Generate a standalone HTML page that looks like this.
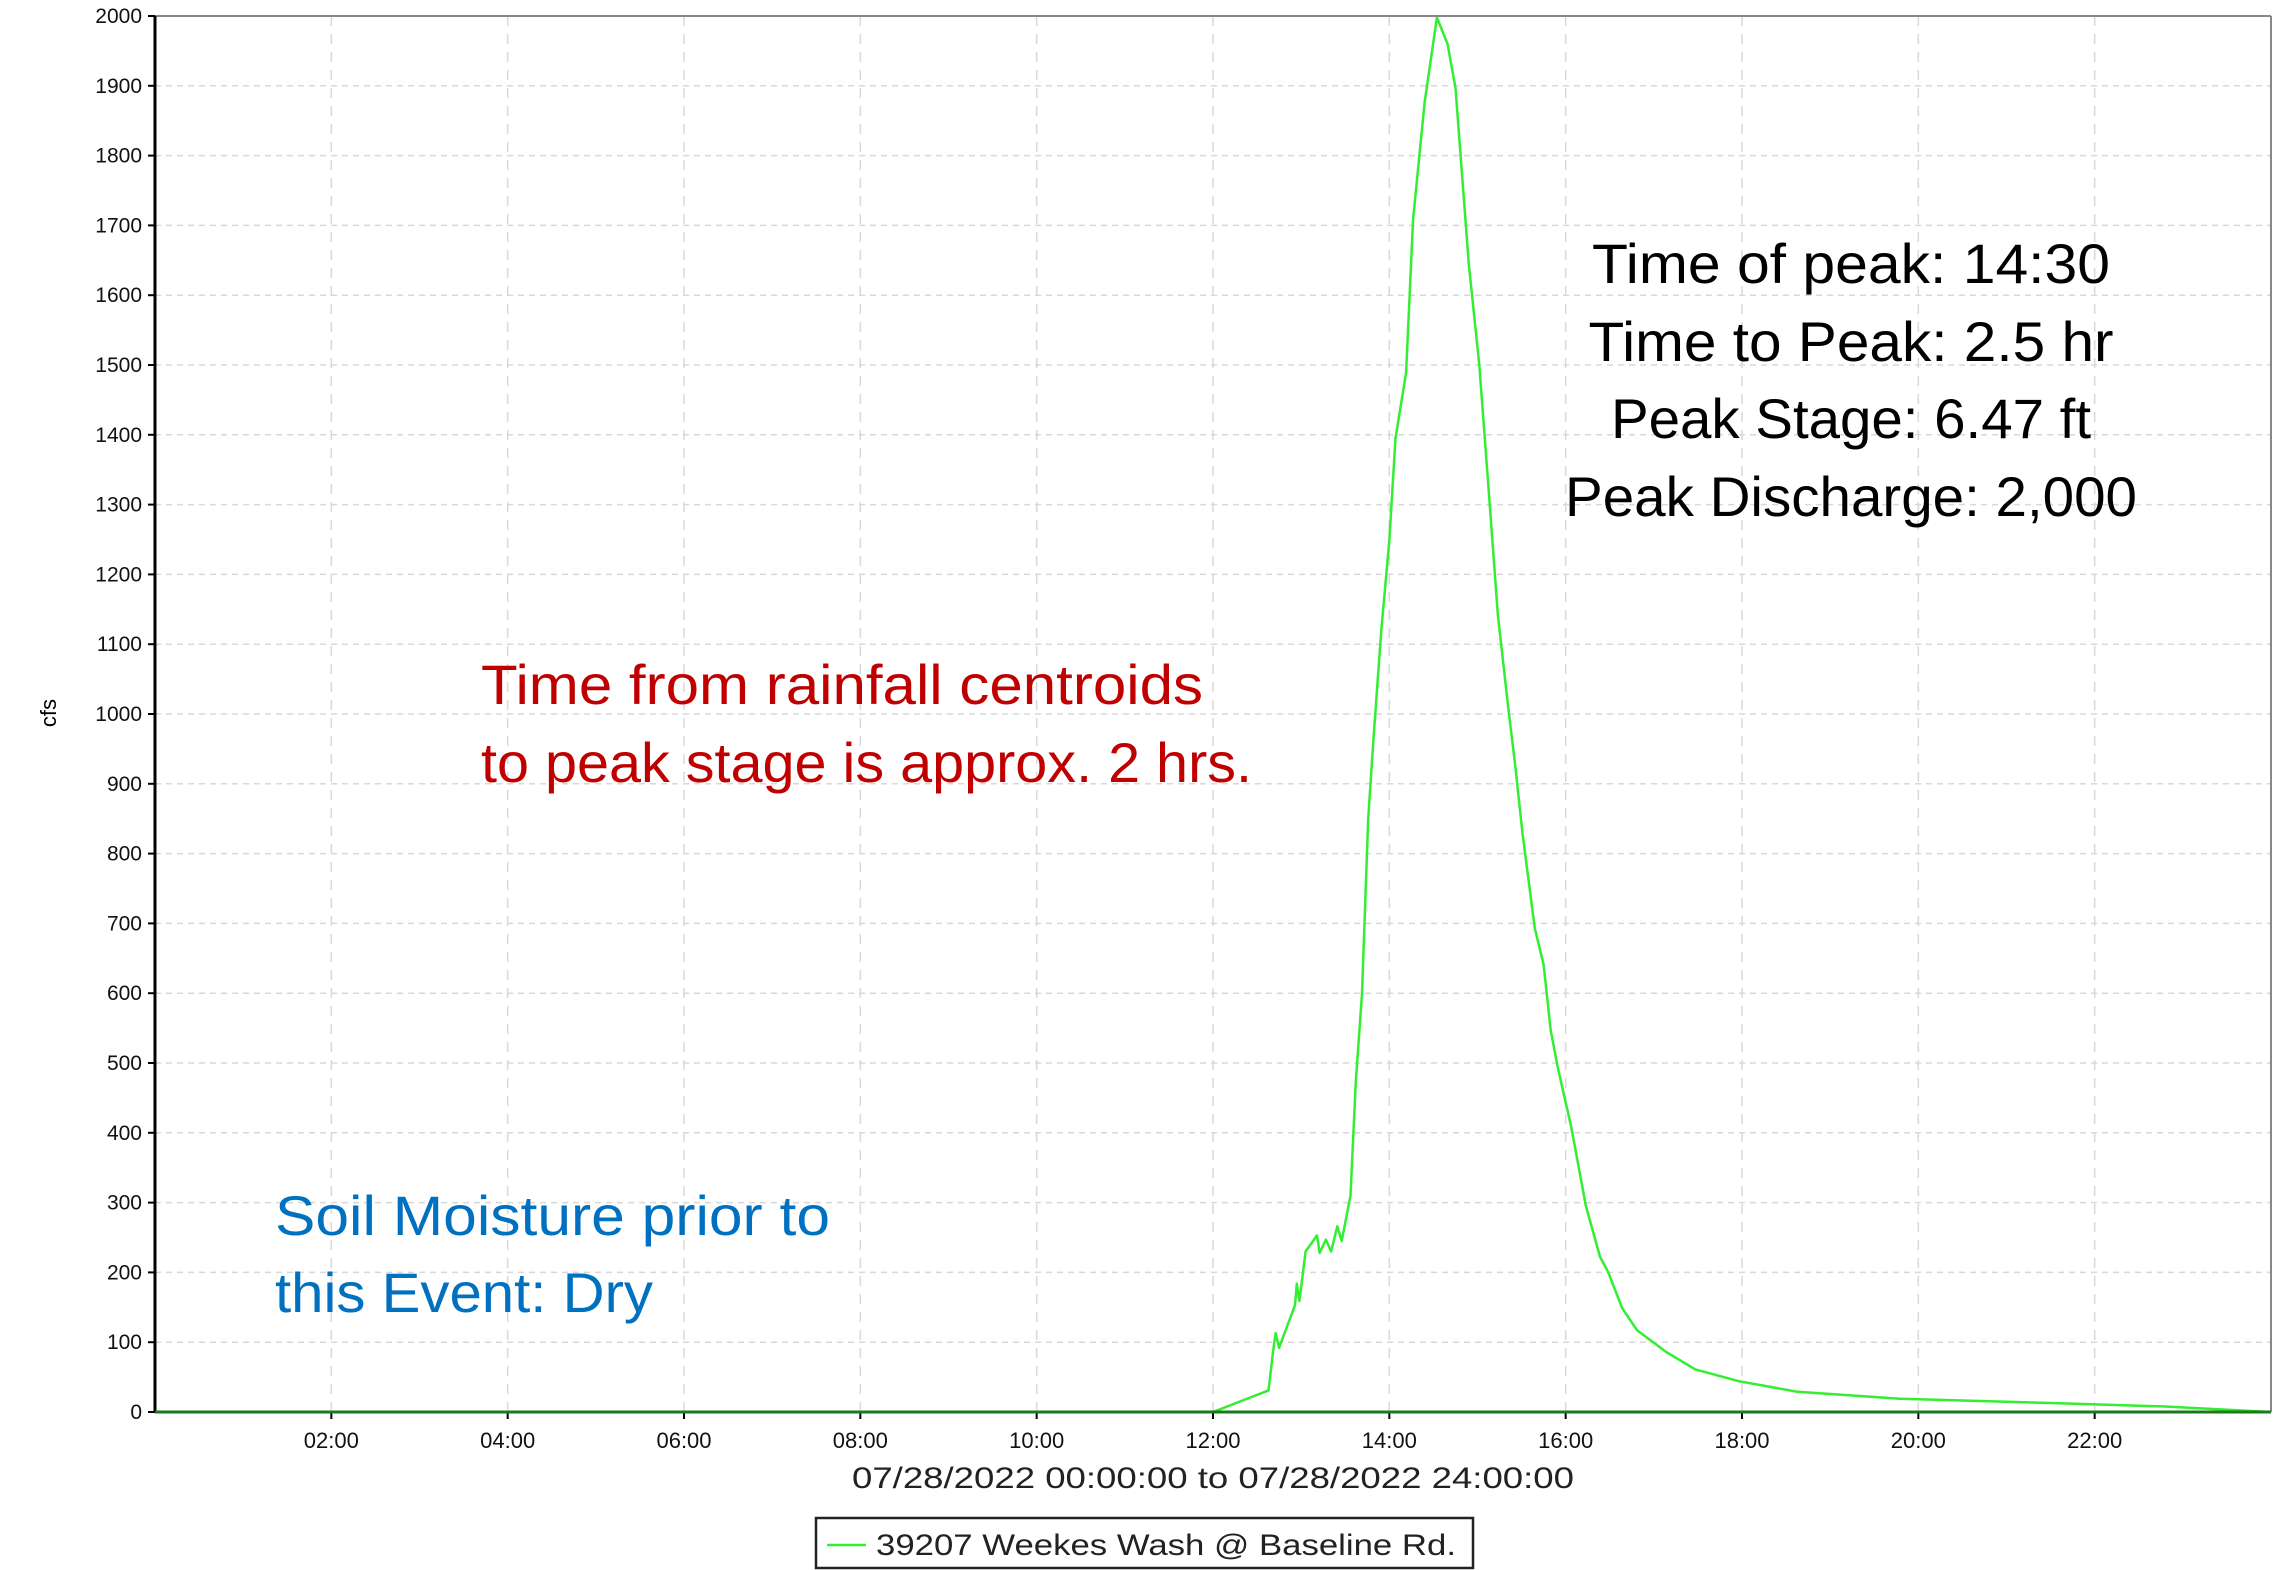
<!DOCTYPE html>
<html><head><meta charset="utf-8"><style>
html,body{margin:0;padding:0;background:#fff;}
svg{display:block;font-family:"Liberation Sans","DejaVu Sans",sans-serif;}
</style></head><body>
<svg id="chart" width="2280" height="1570" viewBox="0 0 2280 1570">
<g id="grid"></g>
<g id="series"></g>
<g id="axes"></g>
<text x="56" y="713" font-size="22" text-anchor="middle" transform="rotate(-90 56 713)">cfs</text>
<text x="1213" y="1488" font-size="30" text-anchor="middle" fill="#222" textLength="722" lengthAdjust="spacingAndGlyphs">07/28/2022 00:00:00 to 07/28/2022 24:00:00</text>
<g>
<rect x="816" y="1518" width="657" height="50" fill="#fff" stroke="#222" stroke-width="2.5"/>
<line x1="827" y1="1545" x2="866" y2="1545" stroke="#33ee33" stroke-width="2.5"/>
<text x="876" y="1555" font-size="30" fill="#222" textLength="580" lengthAdjust="spacingAndGlyphs">39207 Weekes Wash @ Baseline Rd.</text>
</g>
<g font-size="56" fill="#000" text-anchor="middle">
<text x="1851" y="283" textLength="518" lengthAdjust="spacingAndGlyphs">Time of peak: 14:30</text>
<text x="1851" y="361" textLength="525" lengthAdjust="spacingAndGlyphs">Time to Peak: 2.5 hr</text>
<text x="1851" y="438" textLength="480" lengthAdjust="spacingAndGlyphs">Peak Stage: 6.47 ft</text>
<text x="1851" y="516" textLength="572" lengthAdjust="spacingAndGlyphs">Peak Discharge: 2,000</text>
</g>
<g font-size="56" fill="#c00000">
<text x="481" y="704" textLength="722" lengthAdjust="spacingAndGlyphs">Time from rainfall centroids</text>
<text x="481" y="782" textLength="771" lengthAdjust="spacingAndGlyphs">to peak stage is approx. 2 hrs.</text>
</g>
<g font-size="56" fill="#0070c0">
<text x="275" y="1235" textLength="555" lengthAdjust="spacingAndGlyphs">Soil Moisture prior to</text>
<text x="275" y="1312" textLength="378" lengthAdjust="spacingAndGlyphs">this Event: Dry</text>
</g>
</svg>
<script>
const hours=[0,12.0,12.63,12.68,12.71,12.75,12.93,12.95,12.98,13.05,13.18,13.21,13.28,13.34,13.41,13.46,13.56,13.62,13.69,13.76,13.82,13.91,14.0,14.07,14.19,14.27,14.4,14.54,14.66,14.75,14.9,15.02,15.12,15.23,15.35,15.43,15.51,15.65,15.75,15.83,15.91,16.06,16.23,16.39,16.48,16.64,16.81,17.14,17.47,17.97,18.63,19.79,21.45,22.77,24];
const cfs=[0,0,31,86,113,92,153,184,159,230,253,228,247,230,266,245,310,473,599,850,965,1122,1248,1395,1489,1709,1876,1998,1960,1897,1646,1500,1332,1143,1007,924,829,693,641,547,494,410,295,222,201,149,117,86,61,44,29,19,13,8,0];
const yTicks=[0,100,200,300,400,500,600,700,800,900,1000,1100,1200,1300,1400,1500,1600,1700,1800,1900,2000];
const xTicks=[2,4,6,8,10,12,14,16,18,20,22];
const xTickLabels=["02:00","04:00","06:00","08:00","10:00","12:00","14:00","16:00","18:00","20:00","22:00"];
const PL=155,PR=2271,PT=16,PB=1412;
const xs=h=>PL+(PR-PL)*h/24;
const ys=v=>PB-(PB-PT)*v/2000;
const NS="http://www.w3.org/2000/svg";
function mk(tag,attrs,parent){const e=document.createElementNS(NS,tag);for(const k in attrs)e.setAttribute(k,attrs[k]);parent.appendChild(e);return e;}
const gridG=document.getElementById('grid'),axesG=document.getElementById('axes'),seriesG=document.getElementById('series');
yTicks.forEach(v=>{
  if(v>0&&v<2000){const g=mk('line',{x1:PL,x2:PR,y1:ys(v),y2:ys(v),stroke:'#d8d8d8','stroke-width':1.5,'stroke-dasharray':'6 5'},gridG);
  
  }
  const t=mk('line',{x1:PL-7,x2:PL,y1:ys(v),y2:ys(v),stroke:'#000','stroke-width':2},axesG);
  
  
  const lb=mk('text',{x:PL-13,y:ys(v)+7,'font-size':21,'text-anchor':'end',fill:'#111'},axesG);
  lb.textContent=v;
  
  
});
xTicks.forEach((h,i)=>{
  const g=mk('line',{x1:xs(h),x2:xs(h),y1:PT,y2:PB,stroke:'#d8d8d8','stroke-width':1.5,'stroke-dasharray':'10 8'},gridG);
  
  
  const t=mk('line',{x1:xs(h),x2:xs(h),y1:PB,y2:PB+7,stroke:'#000','stroke-width':2},axesG);
  
  
  const lb=mk('text',{x:xs(h),y:PB+36,'font-size':22,'text-anchor':'middle',fill:'#111'},axesG);
  lb.textContent=xTickLabels[i];
  
  
});
const borderTop=mk('line',{x1:PL,x2:PR,y1:PT,y2:PT,stroke:'#888','stroke-width':2},axesG);


const borderRight=mk('line',{x1:PR,x2:PR,y1:PT,y2:PB,stroke:'#888','stroke-width':2},axesG);


const axisLeft=mk('line',{x1:PL,x2:PL,y1:PT,y2:PB+1,stroke:'#000','stroke-width':3},axesG);


const axisBottom=mk('line',{x1:PL,x2:PR,y1:PB,y2:PB,stroke:'#1a7a1a','stroke-width':3},axesG);


const pts=hours.map((h,i)=>xs(h).toFixed(1)+','+ys(cfs[i]).toFixed(1)).join(' ');
const pl=mk('polyline',{points:pts,fill:'none',stroke:'#33ee33','stroke-width':2.5,'stroke-linejoin':'round'},seriesG);


</script>
</body></html>
